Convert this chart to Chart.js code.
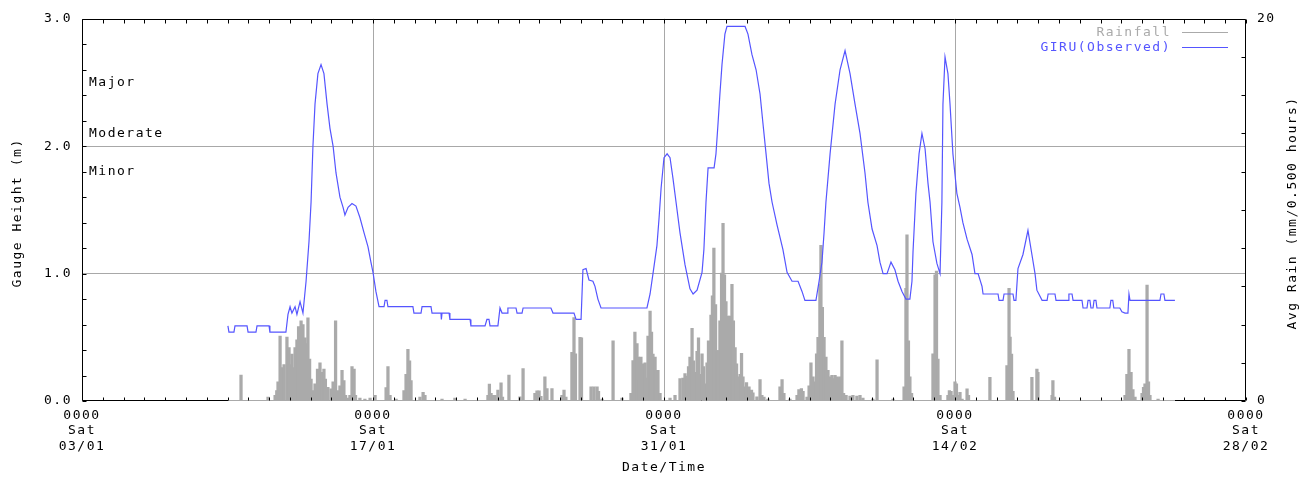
<!DOCTYPE html>
<html>
<head>
<meta charset="utf-8">
<script src="https://cdn.jsdelivr.net/npm/chart.js@4/dist/chart.umd.min.js"></script>
<style>
  html, body { margin: 0; padding: 0; background: #fff; overflow: hidden; }
  #wrap { width: 1313px; height: 482px; }
</style>
</head>
<body>
<div id="wrap"><canvas id="c" width="1313" height="482"></canvas></div>
<script>
// Time axis: days since 0000 Sat 03/01
const tickDays     = [0, 14, 28, 42, 56];
const tickTimes    = ['0000', '0000', '0000', '0000', '0000'];
const tickWeekdays = ['Sat', 'Sat', 'Sat', 'Sat', 'Sat'];
const tickDates    = ['03/01', '17/01', '31/01', '14/02', '28/02'];

// Flood classification levels (m)
const floodNames   = ['Major', 'Moderate', 'Minor'];
const floodHeights = [2.5, 2.1, 1.8];

// GIRU observed gauge height (m)
const levelDays = [
  7.02, 7.07, 7.31, 7.36, 7.94, 7.99, 8.37, 8.42, 9.00, 9.04,
  9.81, 9.91, 10.01, 10.10, 10.25, 10.34, 10.49, 10.63, 10.78, 10.92,
  11.02, 11.11, 11.21, 11.35, 11.50, 11.64, 11.79, 11.93, 12.08, 12.22,
  12.41, 12.56, 12.65, 12.80, 12.99, 13.18, 13.37, 13.57, 13.76, 13.90,
  14.00, 14.14, 14.29, 14.53, 14.58, 14.67, 14.72, 15.92, 15.97, 16.31,
  16.36, 16.79, 16.84, 17.27, 17.29, 17.32, 17.66, 17.70, 18.67, 18.71,
  19.39, 19.48, 19.58, 19.63, 20.01, 20.11, 20.21, 20.45, 20.49, 20.88,
  20.93, 21.17, 21.22, 22.56, 22.66, 23.67, 23.77, 24.01, 24.10, 24.25,
  24.39, 24.58, 24.68, 24.82, 24.97, 27.18, 27.33, 27.47, 27.66, 27.76,
  27.86, 28.00, 28.15, 28.29, 28.43, 28.58, 28.77, 29.01, 29.25, 29.40,
  29.59, 29.83, 29.92, 30.02, 30.12, 30.41, 30.50, 30.60, 30.69, 30.79,
  30.93, 31.03, 31.90, 32.04, 32.23, 32.43, 32.62, 32.76, 32.91, 33.05,
  33.20, 33.44, 33.72, 33.92, 34.16, 34.45, 34.64, 34.78, 35.31, 35.46,
  35.60, 35.70, 35.79, 35.99, 36.23, 36.47, 36.71, 36.95, 37.19, 37.43,
  37.67, 37.81, 38.01, 38.25, 38.39, 38.54, 38.73, 38.92, 39.11, 39.26,
  39.45, 39.64, 39.83, 39.93, 39.98, 40.12, 40.27, 40.41, 40.56, 40.70,
  40.80, 40.94, 41.13, 41.28, 41.37, 41.42, 41.52, 41.66, 41.76, 41.90,
  42.09, 42.24, 42.38, 42.58, 42.82, 42.96, 43.11, 43.30, 43.35, 44.07,
  44.12, 44.31, 44.36, 44.79, 44.84, 44.93, 45.03, 45.27, 45.51, 45.70,
  45.85, 45.94, 46.19, 46.43, 46.48, 46.81, 46.86, 47.44, 47.48, 47.63,
  47.68, 48.11, 48.16, 48.35, 48.40, 48.49, 48.54, 48.64, 48.69, 48.78,
  48.83, 49.45, 49.50, 49.59, 49.64, 49.93, 50.03, 50.18, 50.32, 50.37,
  50.42, 51.86, 51.91, 52.05, 52.10, 52.58
];
const levelMetres = [
  0.59, 0.54, 0.54, 0.59, 0.59, 0.54, 0.54, 0.59, 0.59, 0.54,
  0.54, 0.68, 0.74, 0.69, 0.74, 0.68, 0.78, 0.69, 0.94, 1.25,
  1.56, 2.00, 2.33, 2.57, 2.64, 2.57, 2.33, 2.14, 2.00, 1.79,
  1.60, 1.52, 1.46, 1.52, 1.55, 1.53, 1.44, 1.32, 1.21, 1.09,
  1.01, 0.86, 0.74, 0.74, 0.79, 0.79, 0.74, 0.74, 0.69, 0.69,
  0.74, 0.74, 0.69, 0.69, 0.64, 0.69, 0.69, 0.64, 0.64, 0.59,
  0.59, 0.64, 0.64, 0.59, 0.59, 0.73, 0.69, 0.69, 0.73, 0.73,
  0.69, 0.69, 0.73, 0.73, 0.69, 0.69, 0.64, 0.64, 1.03, 1.04,
  0.95, 0.94, 0.90, 0.80, 0.73, 0.73, 0.84, 1.00, 1.22, 1.43,
  1.67, 1.91, 1.94, 1.91, 1.75, 1.56, 1.32, 1.07, 0.88, 0.84,
  0.87, 1.01, 1.19, 1.56, 1.83, 1.83, 1.94, 2.18, 2.41, 2.64,
  2.88, 2.94, 2.94, 2.88, 2.72, 2.60, 2.41, 2.18, 1.94, 1.71,
  1.56, 1.38, 1.19, 1.01, 0.94, 0.94, 0.86, 0.79, 0.79, 0.94,
  1.09, 1.32, 1.56, 1.94, 2.33, 2.60, 2.75, 2.57, 2.33, 2.10,
  1.79, 1.56, 1.35, 1.22, 1.09, 1.00, 1.00, 1.09, 1.03, 0.94,
  0.86, 0.80, 0.80, 0.94, 1.17, 1.63, 1.94, 2.10, 1.98, 1.71,
  1.56, 1.25, 1.08, 1.00, 1.56, 2.33, 2.70, 2.57, 2.33, 1.94,
  1.63, 1.52, 1.40, 1.27, 1.15, 1.00, 1.00, 0.90, 0.84, 0.84,
  0.79, 0.79, 0.84, 0.84, 0.79, 0.79, 1.04, 1.15, 1.34, 1.15,
  1.00, 0.87, 0.79, 0.79, 0.84, 0.84, 0.79, 0.79, 0.84, 0.84,
  0.79, 0.79, 0.73, 0.73, 0.79, 0.79, 0.73, 0.73, 0.79, 0.79,
  0.73, 0.73, 0.79, 0.79, 0.73, 0.73, 0.70, 0.69, 0.69, 0.84,
  0.79, 0.79, 0.84, 0.84, 0.79, 0.79
];

// Average rainfall (mm per 0.5 hours)
const rainDays = [
  7.65, 8.95,
  9.29, 9.37, 9.43, 9.53, 9.62, 9.72, 9.86, 9.96, 10.03, 10.10,
  10.18, 10.25, 10.34, 10.42, 10.54, 10.63, 10.73, 10.80, 10.87, 10.95,
  11.02, 11.11, 11.21, 11.33, 11.45, 11.55, 11.64, 11.71, 11.83, 11.98,
  12.08, 12.20, 12.29, 12.41, 12.51, 12.60, 12.68, 12.80, 12.89, 12.99,
  13.09, 13.16, 13.37, 13.61, 13.86, 14.10, 14.63, 14.72, 14.82, 15.11,
  15.49, 15.59, 15.68, 15.76, 15.83, 16.26, 16.41, 16.50, 17.32, 17.94,
  18.43, 19.53, 19.60, 19.68, 19.77, 19.87, 20.01, 20.16, 20.23, 20.54,
  21.07, 21.22, 21.79, 21.89, 21.99, 22.08, 22.27, 22.37, 22.61, 23.09,
  23.19, 23.28, 23.57, 23.67, 23.74, 23.96, 24.03, 24.49, 24.63, 24.78,
  24.85, 25.02, 25.55, 25.98, 26.41, 26.51, 26.60, 26.70, 26.77, 26.82,
  26.89, 26.99, 27.09, 27.16, 27.23, 27.33, 27.40, 27.47, 27.57, 27.64,
  27.71, 27.81, 28.29, 28.53, 28.77, 28.91, 29.01, 29.11, 29.18, 29.25,
  29.35, 29.42, 29.49, 29.59, 29.66, 29.73, 29.83, 29.90, 29.97, 30.07,
  30.14, 30.21, 30.26, 30.33, 30.40, 30.48, 30.55, 30.62, 30.69, 30.77,
  30.84, 30.91, 30.98, 31.08, 31.17, 31.27, 31.34, 31.42, 31.49, 31.56,
  31.66, 31.73, 31.80, 31.90, 31.97, 32.09, 32.21, 32.28, 32.47, 32.62,
  32.71, 32.81, 33.00, 33.58, 33.68, 33.77, 34.06, 34.40, 34.49, 34.61,
  34.69, 34.88, 34.98, 35.07, 35.17, 35.26, 35.34, 35.41, 35.50, 35.55,
  35.62, 35.70, 35.79, 35.89, 35.99, 36.08, 36.15, 36.23, 36.32, 36.39,
  36.47, 36.56, 36.64, 36.76, 36.95, 37.09, 37.28, 37.43, 37.57, 38.05,
  38.25, 39.02, 39.55, 39.64, 39.69, 39.76, 39.83, 39.91, 40.94, 41.04,
  41.11, 41.18, 41.28, 41.66, 41.73, 41.81, 41.90, 42.00, 42.07, 42.14,
  42.24, 42.34, 42.58, 42.65, 43.68, 44.50, 44.60, 44.65, 44.72, 44.79,
  45.70, 45.94, 45.99, 46.67, 46.71, 46.79, 50.18, 50.27, 50.37, 50.47,
  50.56, 50.66, 51.00, 51.07, 51.14, 51.24, 51.31, 51.38, 51.77
];
const rainMm = [
  1.35, 0.2,
  0.3, 0.55, 1.0, 3.4, 1.75, 1.9, 3.35, 2.8, 1.9, 2.45,
  1.75, 2.8, 3.2, 3.9, 4.2, 4.0, 3.3, 3.0, 4.35, 2.2,
  1.15, 0.55, 0.9, 1.67, 2.0, 1.5, 1.67, 1.15, 0.72, 0.64,
  1.0, 4.2, 0.55, 0.8, 1.6, 1.07, 0.3, 0.15, 0.3, 1.8,
  1.67, 0.3, 0.15, 0.1, 0.15, 0.3, 0.7, 1.8, 0.3, 0.1,
  0.55, 1.4, 2.7, 2.1, 1.07, 0.2, 0.45, 0.3, 0.1, 0.15,
  0.1, 0.3, 0.88, 0.4, 0.3, 0.3, 0.57, 0.95, 0.2, 1.35,
  0.22, 1.7, 0.4, 0.53, 0.53, 0.25, 1.26, 0.65, 0.65, 0.3,
  0.57, 0.2, 2.55, 4.36, 2.47, 3.33, 3.3, 0.74, 0.74, 0.74,
  0.5, 0.1, 3.15, 0.15, 0.4, 2.12, 3.6, 3.0, 2.3, 1.1,
  2.3, 1.95, 2.0, 1.2, 3.4, 4.7, 3.6, 2.45, 2.3, 1.6,
  1.6, 0.4, 0.15, 0.3, 1.17, 1.2, 1.43, 1.3, 1.8, 2.3,
  3.8, 2.1, 1.5, 2.6, 3.3, 1.4, 2.47, 1.8, 0.9, 2.0,
  3.15, 3.1, 4.5, 5.5, 8.0, 5.05, 2.64, 2.64, 4.2, 6.7,
  9.3, 6.6, 5.2, 4.45, 4.45, 6.1, 4.2, 2.8, 1.95, 1.26,
  1.4, 2.5, 1.26, 0.74, 0.97, 0.74, 0.57, 0.43, 0.22, 1.12,
  0.3, 0.2, 0.1, 0.74, 1.12, 0.4, 0.1, 0.3, 0.6, 0.65,
  0.5, 0.2, 0.8, 2.0, 1.26, 1.0, 2.47, 3.33, 6.1, 8.15,
  4.9, 3.33, 2.3, 1.6, 1.26, 1.34, 1.17, 1.34, 1.26, 1.22,
  1.26, 3.15, 0.4, 0.3, 0.26, 0.3, 0.26, 0.3, 0.15, 0.1,
  2.15, 0.1, 0.74, 5.9, 8.7, 3.15, 1.26, 0.4, 2.47, 6.6,
  6.8, 2.2, 0.3, 0.3, 0.55, 0.5, 0.3, 1.0, 0.9, 0.3,
  0.45, 0.1, 0.64, 0.3, 1.24, 1.85, 5.9, 3.35, 2.45, 0.5,
  1.24, 1.67, 1.5, 0.3, 1.07, 0.2, 0.3, 1.4, 2.7, 1.5,
  0.6, 0.2, 0.4, 0.72, 0.9, 6.07, 1.0, 0.3, 0.1
];

const FONT = '"DejaVu Sans Mono", monospace';
const LETTER = '1.5px';
const GRID = '#a8a8a8';
const RAIN = '#aaaaaa';
const LEVEL = '#5555ff';

Chart.defaults.font.family = FONT;
Chart.defaults.font.size = 13;
Chart.defaults.color = '#000';

const levelPoints = levelDays.map((d, i) => ({ x: d, y: levelMetres[i] }));
const rainPoints = rainDays.map((d, i) => ({ x: d, y: rainMm[i] }));

// Frame, inward tick marks, flood labels, legend and axis titles
const chartChrome = {
  id: 'chartChrome',
  beforeUpdate(chart) { chart.ctx.letterSpacing = LETTER; },
  beforeDraw(chart) { chart.ctx.letterSpacing = LETTER; },
  afterDatasetsDraw(chart) {
    const { ctx, chartArea: a, scales } = chart;
    const xs = scales.x, ys = scales.y, yr = scales.y1;
    const L = Math.round(a.left) + 0.5, R = Math.round(a.right) - 0.5;
    const T = Math.round(a.top) + 0.5, B = Math.round(a.bottom) - 0.5;
    ctx.save();
    ctx.letterSpacing = LETTER;
    ctx.lineWidth = 1;

    // frame
    ctx.strokeStyle = '#000';
    ctx.beginPath();
    ctx.moveTo(L, T); ctx.lineTo(R, T); ctx.lineTo(R, B); ctx.lineTo(L, B); ctx.closePath();
    ctx.stroke();

    // rainfall baseline over the recorded period
    const start = Math.min(levelDays[0], rainDays[0]);
    const end = Math.max(levelDays[levelDays.length - 1], rainDays[rainDays.length - 1]);
    ctx.strokeStyle = RAIN;
    ctx.beginPath();
    ctx.moveTo(Math.round(xs.getPixelForValue(start)), B);
    ctx.lineTo(Math.round(xs.getPixelForValue(end)), B);
    ctx.stroke();

    // daily ticks top and bottom
    ctx.strokeStyle = '#000';
    ctx.beginPath();
    for (let d = tickDays[0]; d <= tickDays[tickDays.length - 1]; d++) {
      const px = Math.round(xs.getPixelForValue(d)) + 0.5;
      ctx.moveTo(px, B); ctx.lineTo(px, B - 3);
      ctx.moveTo(px, T); ctx.lineTo(px, T + 4);
    }
    // left ticks every 0.2 m
    for (let i = 0; i <= 15; i++) {
      const py = Math.round(ys.getPixelForValue(i * 0.2)) + 0.5;
      ctx.moveTo(L, py); ctx.lineTo(L + 4, py);
    }
    // right ticks every 2 mm
    for (let v = 0; v <= 20; v += 2) {
      const py = Math.round(yr.getPixelForValue(v)) + 0.5;
      ctx.moveTo(R, py); ctx.lineTo(R - 4, py);
    }
    ctx.stroke();

    ctx.font = '13px ' + FONT;
    ctx.textBaseline = 'middle';

    // flood classification labels
    ctx.fillStyle = '#000';
    ctx.textAlign = 'left';
    floodNames.forEach((n, i) => {
      ctx.fillText(n, a.left + 7, ys.getPixelForValue(floodHeights[i]));
    });

    // legend
    const legend = [['Rainfall', RAIN], ['GIRU(Observed)', LEVEL]];
    legend.forEach(([label, colour], i) => {
      const ly = Math.round(a.top + 13 + i * 15) + 0.5;
      ctx.fillStyle = colour;
      ctx.textAlign = 'right';
      ctx.fillText(label, a.right - 75, ly);
      ctx.strokeStyle = colour;
      ctx.beginPath();
      ctx.moveTo(a.right - 64, ly); ctx.lineTo(a.right - 18, ly);
      ctx.stroke();
    });

    // axis titles
    ctx.fillStyle = '#000';
    ctx.textAlign = 'center';
    ctx.fillText('Date/Time', (a.left + a.right) / 2, 468);
    const midY = (a.top + a.bottom) / 2 + 3;
    ctx.save();
    ctx.translate(18, midY);
    ctx.rotate(-Math.PI / 2);
    ctx.fillText('Gauge Height (m)', 0, 0);
    ctx.restore();
    ctx.save();
    ctx.translate(1293, midY);
    ctx.rotate(-Math.PI / 2);
    ctx.fillText('Avg Rain (mm/0.500 hours)', 0, 0);
    ctx.restore();

    ctx.restore();
  }
};

new Chart(document.getElementById('c'), {
  type: 'bar',
  data: {
    datasets: [
      {
        type: 'line',
        label: 'GIRU(Observed)',
        data: levelPoints,
        xAxisID: 'x',
        yAxisID: 'y',
        borderColor: LEVEL,
        borderWidth: 1.2,
        pointRadius: 0,
        tension: 0,
        fill: false
      },
      {
        type: 'bar',
        label: 'Rainfall',
        data: rainPoints,
        xAxisID: 'x',
        yAxisID: 'y1',
        backgroundColor: RAIN,
        borderWidth: 0,
        barThickness: 2.6,
        grouped: false
      }
    ]
  },
  options: {
    responsive: false,
    animation: false,
    layout: { padding: { top: 14, left: 0, right: 0, bottom: 0 } },
    plugins: { legend: { display: false }, tooltip: { enabled: false } },
    scales: {
      x: {
        type: 'linear',
        offset: false,
        min: tickDays[0],
        max: tickDays[tickDays.length - 1],
        afterBuildTicks: s => { s.ticks = tickDays.map(v => ({ value: v })); },
        afterFit: s => { s.height = 81; },
        ticks: {
          autoSkip: false,
          maxRotation: 0,
          padding: 7,
          color: '#000',
          font: { family: FONT, size: 13, lineHeight: 1.18 },
          callback: v => {
            const k = tickDays.indexOf(v);
            return [tickTimes[k], tickWeekdays[k], tickDates[k]];
          }
        },
        grid: {
          offset: false,
          drawTicks: false,
          lineWidth: 1,
          color: c => (c.tick && c.tick.value > tickDays[0] && c.tick.value < tickDays[tickDays.length - 1]) ? GRID : 'rgba(0,0,0,0)'
        },
        border: { display: false }
      },
      y: {
        position: 'left',
        min: 0,
        max: 3,
        afterFit: s => { s.width = 82; },
        ticks: {
          stepSize: 1,
          padding: 10,
          color: '#000',
          font: { family: FONT, size: 13 },
          callback: v => Number(v).toFixed(1)
        },
        grid: {
          drawTicks: false,
          lineWidth: 1,
          color: c => (c.tick && c.tick.value > 0 && c.tick.value < 3) ? GRID : 'rgba(0,0,0,0)'
        },
        border: { display: false }
      },
      y1: {
        position: 'right',
        min: 0,
        max: 20,
        afterFit: s => { s.width = 67; },
        ticks: {
          stepSize: 20,
          padding: 11,
          color: '#000',
          font: { family: FONT, size: 13 },
          callback: v => String(v)
        },
        grid: { display: false, drawTicks: false },
        border: { display: false }
      }
    }
  },
  plugins: [chartChrome]
});
</script>
</body>
</html>
